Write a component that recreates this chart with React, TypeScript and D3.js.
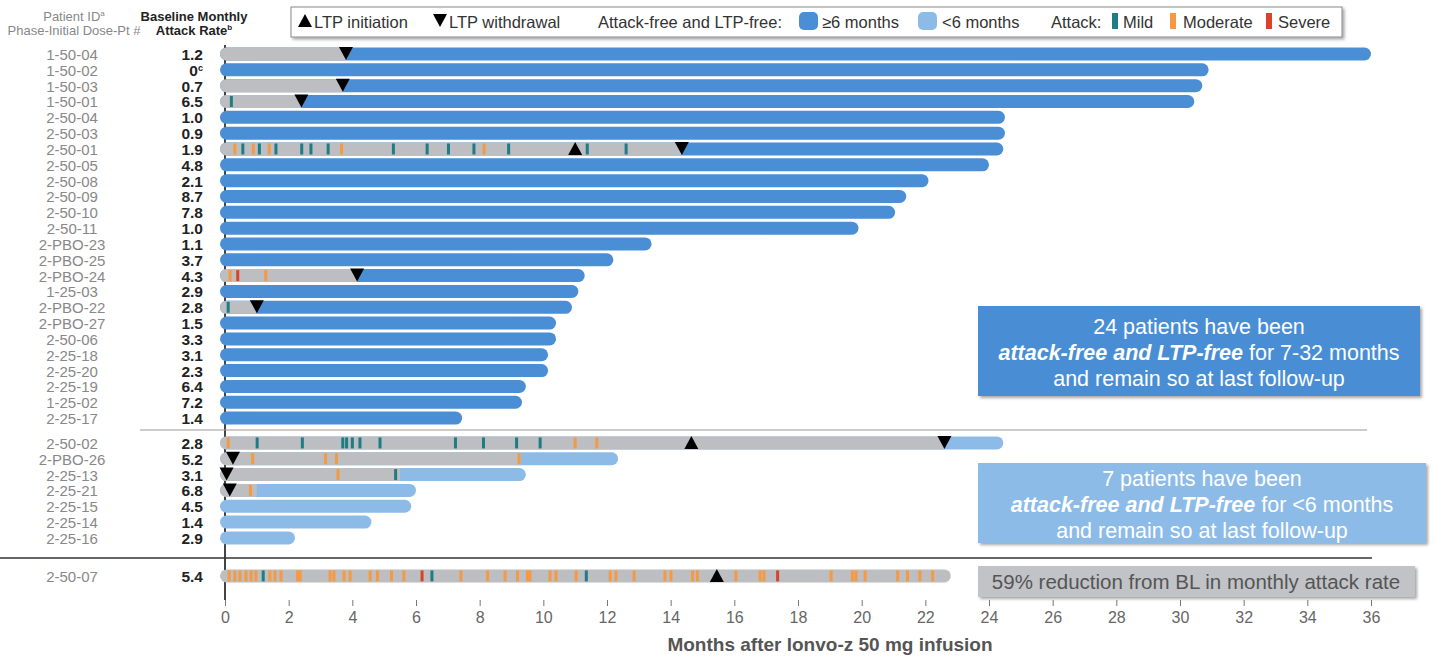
import React, { useEffect, useRef } from "react";
import * as d3 from "d3";

// patients attack-free and LTP-free for >= 6 months
const longIds = ["1-50-04", "1-50-02", "1-50-03", "1-50-01", "2-50-04", "2-50-03", "2-50-01", "2-50-05", "2-50-08", "2-50-09", "2-50-10", "2-50-11", "2-PBO-23", "2-PBO-25", "2-PBO-24", "1-25-03", "2-PBO-22", "2-PBO-27", "2-50-06", "2-25-18", "2-25-20", "2-25-19", "1-25-02", "2-25-17"];
const longRates = ["1.2", "0", "0.7", "6.5", "1.0", "0.9", "1.9", "4.8", "2.1", "8.7", "7.8", "1.0", "1.1", "3.7", "4.3", "2.9", "2.8", "1.5", "3.3", "3.1", "2.3", "6.4", "7.2", "1.4"];
const longFollowUp = [36.0, 30.9, 30.7, 30.45, 24.5, 24.5, 24.45, 24.0, 22.1, 21.4, 21.05, 19.9, 13.4, 12.2, 11.3, 11.1, 10.9, 10.4, 10.4, 10.15, 10.15, 9.45, 9.33, 7.45];
const longFreeFrom = [3.8, 0, 3.7, 2.4, 0, 0, 14.35, 0, 0, 0, 0, 0, 0, 0, 4.15, 0, 1.0, 0, 0, 0, 0, 0, 0, 0];

// patients attack-free and LTP-free for < 6 months
const shortIds = ["2-50-02", "2-PBO-26", "2-25-13", "2-25-21", "2-25-15", "2-25-14", "2-25-16"];
const shortRates = ["2.8", "5.2", "3.1", "6.8", "4.5", "1.4", "2.9"];
const shortFollowUp = [24.45, 12.35, 9.45, 6.0, 5.85, 4.6, 2.2];
const shortFreeFrom = [22.6, 9.3, 5.5, 1.0, 0, 0, 0];

// patient with ongoing attacks
const ongoingIds = ["2-50-07"];
const ongoingRates = ["5.4"];
const ongoingFollowUp = [22.8];

const ltpInitiation: [string, number][] = [["2-50-01", 11.0], ["2-50-02", 14.65], ["2-50-07", 15.45]];
const ltpWithdrawal: [string, number][] = [
  ["1-50-04", 3.8], ["1-50-03", 3.7], ["1-50-01", 2.4], ["2-50-01", 14.35], ["2-PBO-24", 4.15],
  ["2-PBO-22", 1.0], ["2-50-02", 22.6], ["2-PBO-26", 0.25], ["2-25-13", 0.05], ["2-25-21", 0.15],
];

type Sev = "mild" | "moderate" | "severe";
const attacks: [string, number, Sev][] = [
  ["1-50-01", 0.2, "mild"],
  ["2-50-01", 0.31, "moderate"], ["2-50-01", 0.56, "mild"], ["2-50-01", 0.89, "moderate"], ["2-50-01", 1.08, "mild"],
  ["2-50-01", 1.39, "moderate"], ["2-50-01", 1.6, "mild"], ["2-50-01", 2.41, "mild"], ["2-50-01", 2.7, "mild"],
  ["2-50-01", 3.24, "mild"], ["2-50-01", 3.66, "moderate"], ["2-50-01", 5.29, "mild"], ["2-50-01", 6.35, "mild"],
  ["2-50-01", 7.02, "mild"], ["2-50-01", 7.82, "mild"], ["2-50-01", 8.14, "moderate"], ["2-50-01", 8.91, "mild"],
  ["2-50-01", 11.38, "mild"], ["2-50-01", 12.6, "mild"],
  ["2-PBO-24", 0.16, "moderate"], ["2-PBO-24", 0.4, "severe"], ["2-PBO-24", 1.28, "moderate"],
  ["2-PBO-22", 0.1, "mild"],
  ["2-50-02", 0.1, "moderate"], ["2-50-02", 1.01, "mild"], ["2-50-02", 2.43, "mild"], ["2-50-02", 3.7, "mild"],
  ["2-50-02", 3.82, "mild"], ["2-50-02", 4.0, "mild"], ["2-50-02", 4.24, "mild"], ["2-50-02", 4.87, "mild"],
  ["2-50-02", 7.24, "mild"], ["2-50-02", 8.12, "mild"], ["2-50-02", 9.16, "mild"], ["2-50-02", 9.9, "mild"],
  ["2-50-02", 11.0, "moderate"], ["2-50-02", 11.68, "moderate"],
  ["2-PBO-26", 0.87, "moderate"], ["2-PBO-26", 3.16, "moderate"], ["2-PBO-26", 3.5, "moderate"], ["2-PBO-26", 9.24, "moderate"],
  ["2-25-13", 3.55, "moderate"], ["2-25-13", 5.36, "mild"],
  ["2-25-21", 0.8, "moderate"],
  ["2-50-07", 0.13, "moderate"], ["2-50-07", 0.31, "moderate"], ["2-50-07", 0.47, "moderate"], ["2-50-07", 0.66, "moderate"],
  ["2-50-07", 0.82, "moderate"], ["2-50-07", 0.97, "moderate"], ["2-50-07", 1.2, "mild"], ["2-50-07", 1.41, "moderate"],
  ["2-50-07", 1.57, "moderate"], ["2-50-07", 1.76, "moderate"], ["2-50-07", 2.28, "moderate"], ["2-50-07", 2.36, "moderate"],
  ["2-50-07", 3.3, "moderate"], ["2-50-07", 3.42, "moderate"], ["2-50-07", 3.74, "moderate"], ["2-50-07", 3.93, "moderate"],
  ["2-50-07", 4.56, "moderate"], ["2-50-07", 4.79, "moderate"], ["2-50-07", 5.23, "moderate"], ["2-50-07", 5.62, "moderate"],
  ["2-50-07", 6.19, "severe"], ["2-50-07", 6.5, "mild"], ["2-50-07", 7.41, "moderate"], ["2-50-07", 8.25, "moderate"],
  ["2-50-07", 8.8, "moderate"], ["2-50-07", 9.19, "moderate"], ["2-50-07", 9.5, "moderate"], ["2-50-07", 9.58, "moderate"],
  ["2-50-07", 10.21, "moderate"], ["2-50-07", 10.4, "moderate"], ["2-50-07", 11.03, "moderate"], ["2-50-07", 11.35, "mild"],
  ["2-50-07", 12.1, "moderate"], ["2-50-07", 12.28, "moderate"], ["2-50-07", 12.85, "moderate"], ["2-50-07", 13.82, "moderate"],
  ["2-50-07", 14.01, "moderate"], ["2-50-07", 14.69, "moderate"], ["2-50-07", 14.84, "moderate"], ["2-50-07", 16.05, "moderate"],
  ["2-50-07", 16.81, "moderate"], ["2-50-07", 16.93, "moderate"], ["2-50-07", 17.36, "severe"], ["2-50-07", 19.04, "moderate"],
  ["2-50-07", 19.71, "moderate"], ["2-50-07", 19.82, "moderate"], ["2-50-07", 20.11, "moderate"], ["2-50-07", 21.13, "moderate"],
  ["2-50-07", 21.44, "moderate"], ["2-50-07", 21.83, "moderate"], ["2-50-07", 22.23, "moderate"],
];

const monthTicks = [0, 2, 4, 6, 8, 10, 12, 14, 16, 18, 20, 22, 24, 26, 28, 30, 32, 34, 36];

const BLUE = "#4a8ed5";
const LIGHT = "#8dbbe8";
const GRAY = "#bcbec2";
const SEV: Record<Sev, string> = { mild: "#1e7d84", moderate: "#f59a42", severe: "#d9432c" };
const NARROW = "'Liberation Sans Narrow', 'Arial Narrow', 'Liberation Sans', sans-serif";
const SANS = "'Liberation Sans', Arial, sans-serif";

type Row = { id: string; rate: string; end: number; freeFrom: number; color: string; slot: number };

const rows: Row[] = [
  ...longIds.map((id, i) => ({ id, rate: longRates[i], end: longFollowUp[i], freeFrom: longFreeFrom[i], color: BLUE, slot: i })),
  ...shortIds.map((id, i) => ({ id, rate: shortRates[i], end: shortFollowUp[i], freeFrom: shortFreeFrom[i], color: LIGHT, slot: 24.57 + i })),
  ...ongoingIds.map((id, i) => ({ id, rate: ongoingRates[i], end: ongoingFollowUp[i], freeFrom: ongoingFollowUp[i], color: GRAY, slot: 32.97 + i })),
];

const x = d3.scaleLinear().domain([0, 36]).range([225, 1371]);
const y = d3.scaleLinear().domain([0, 1]).range([54, 54 + 15.83]);
const BH = 13;

// rect with a rounded left end only
const leftRounded = (x0: number, x1: number, top: number, h: number) => {
  const r = h / 2;
  const p = d3.path();
  p.moveTo(x0 + r, top);
  p.lineTo(x1, top);
  p.lineTo(x1, top + h);
  p.lineTo(x0 + r, top + h);
  p.arc(x0 + r, top + r, r, Math.PI / 2, (3 * Math.PI) / 2);
  p.closePath();
  return p.toString();
};

const rowY = (id: string) => y(rows.find((r) => r.id === id)!.slot);

const App = () => {
  const axisRef = useRef<SVGGElement>(null);

  useEffect(() => {
    const g = d3.select(axisRef.current);
    g.call(d3.axisBottom(x).tickValues(monthTicks).tickSize(6).tickPadding(6).tickFormat(d3.format("d")) as any);
    g.select(".domain").remove();
    g.selectAll(".tick line").attr("stroke", "#777");
    g.selectAll(".tick text").attr("fill", "#666").style("font-size", "16px").style("font-family", NARROW);
  }, []);

  const tri = (cx: number, cy: number, up: boolean) =>
    up
      ? `${cx - 7},${cy + 6} ${cx + 7},${cy + 6} ${cx},${cy - 7}`
      : `${cx - 7},${cy - 7} ${cx + 7},${cy - 7} ${cx},${cy + 6}`;

  return (
    <svg width={1436} height={659} style={{ position: "absolute", left: 0, top: 0, background: "#fff" }}>
      <defs>
        <filter id="sh" x="-5%" y="-20%" width="110%" height="150%">
          <feDropShadow dx="2" dy="2" stdDeviation="1.5" floodColor="#000" floodOpacity="0.35" />
        </filter>
      </defs>

      {/* column headers */}
      <g fontFamily={NARROW} textAnchor="middle">
        <text x={74} y={21} fontSize={13} fill="#888">Patient ID<tspan fontSize={8} dy={-5}>a</tspan></text>
        <text x={74} y={35} fontSize={13} fill="#888">Phase-Initial Dose-Pt #</text>
        <text x={194} y={21} fontSize={13} fontWeight="bold" fill="#222">Baseline Monthly</text>
        <text x={194} y={35} fontSize={13} fontWeight="bold" fill="#222">Attack Rate<tspan fontSize={8} dy={-5}>b</tspan></text>
      </g>

      {/* legend */}
      <g filter="url(#sh)">
        <rect x={291} y={7} width={1051} height={30} fill="#fff" stroke="#888" strokeWidth={1} />
      </g>
      <g fontFamily={SANS} fontSize={16.5} fill="#333">
        <polygon points={tri(305, 21, true)} fill="#000" />
        <text x={314} y={27.5}>LTP initiation</text>
        <polygon points={tri(440, 21, false)} fill="#000" />
        <text x={449} y={27.5}>LTP withdrawal</text>
        <text x={598} y={27.5}>Attack-free and LTP-free:</text>
        <rect x={799} y={12} width={19} height={18} rx={5} fill={BLUE} />
        <text x={822} y={27.5}>≥6 months</text>
        <rect x={918} y={12} width={19} height={18} rx={5} fill={LIGHT} />
        <text x={942} y={27.5}>&lt;6 months</text>
        <text x={1051} y={27.5}>Attack:</text>
        <rect x={1112} y={13} width={6} height={16} fill={SEV.mild} />
        <text x={1123} y={27.5}>Mild</text>
        <rect x={1170} y={13} width={6} height={16} fill={SEV.moderate} />
        <text x={1183} y={27.5}>Moderate</text>
        <rect x={1266} y={13} width={6} height={16} fill={SEV.severe} />
        <text x={1278} y={27.5}>Severe</text>
      </g>

      {/* vertical zero line */}
      <line x1={x(0)} x2={x(0)} y1={45} y2={600} stroke="#444" strokeWidth={2} />

      {/* bars */}
      {rows.map((r) => {
        const cy = y(r.slot);
        const top = cy - BH / 2;
        return (
          <g key={r.id}>
            <text x={72} y={cy + 6} textAnchor="middle" fontFamily={NARROW} fontSize={15} fill="#888">{r.id}</text>
            <text x={203} y={cy + 6} textAnchor="end" fontFamily={NARROW} fontSize={15.5} fontWeight="bold" fill="#222">
              {r.rate}
              {r.rate === "0" && <tspan fontSize={9} dy={-5}>c</tspan>}
            </text>
            <rect x={x(0) - 5} y={top} width={x(r.end) - x(0) + 5} height={BH} rx={BH / 2} fill={r.color} />
            {r.freeFrom > 0 && r.freeFrom < r.end && (
              <path d={leftRounded(x(0) - 5, x(r.freeFrom), top, BH)} fill={GRAY} />
            )}
          </g>
        );
      })}

      {/* attacks */}
      {attacks.map(([id, m, s], i) => (
        <rect key={i} x={x(m) - 1.5} y={rowY(id) - 5.5} width={3} height={11} fill={SEV[s]} />
      ))}

      {/* LTP markers */}
      {ltpWithdrawal.map(([id, m]) => (
        <polygon key={"w" + id} points={tri(x(m), rowY(id), false)} fill="#000" />
      ))}
      {ltpInitiation.map(([id, m]) => (
        <polygon key={"i" + id} points={tri(x(m), rowY(id), true)} fill="#000" />
      ))}

      {/* group separators */}
      <line x1={140} x2={1367} y1={430} y2={430} stroke="#999" strokeWidth={1} />
      <line x1={0} x2={1372} y1={558} y2={558} stroke="#333" strokeWidth={1.5} />

      {/* annotation boxes */}
      <g filter="url(#sh)">
        <rect x={978} y={306} width={442} height={90} fill={BLUE} />
        <rect x={978} y={463} width={448} height={80} fill={LIGHT} />
        <rect x={978} y={566} width={437} height={31} fill="#c1c3c7" />
      </g>
      <g fontFamily={SANS} fontSize={21.5} fill="#fff" textAnchor="middle">
        <text x={1199} y={333.5}>24 patients have been</text>
        <text x={1199} y={359.5}>
          <tspan fontWeight="bold" fontStyle="italic">attack-free and LTP-free</tspan> for 7-32 months
        </text>
        <text x={1199} y={385.5}>and remain so at last follow-up</text>
        <text x={1202} y={485.5}>7 patients have been</text>
        <text x={1202} y={511.5}>
          <tspan fontWeight="bold" fontStyle="italic">attack-free and LTP-free</tspan> for &lt;6 months
        </text>
        <text x={1202} y={537.5}>and remain so at last follow-up</text>
      </g>
      <text x={1196} y={589} textAnchor="middle" fontFamily={SANS} fontSize={20.5} fill="#555">
        59% reduction from BL in monthly attack rate
      </text>

      {/* x axis */}
      <g ref={axisRef} transform="translate(0,600)" />
      <text x={830} y={651} textAnchor="middle" fontFamily={SANS} fontSize={19} fontWeight="bold" fill="#555">
        Months after lonvo-z 50 mg infusion
      </text>
    </svg>
  );
};

export default App;
